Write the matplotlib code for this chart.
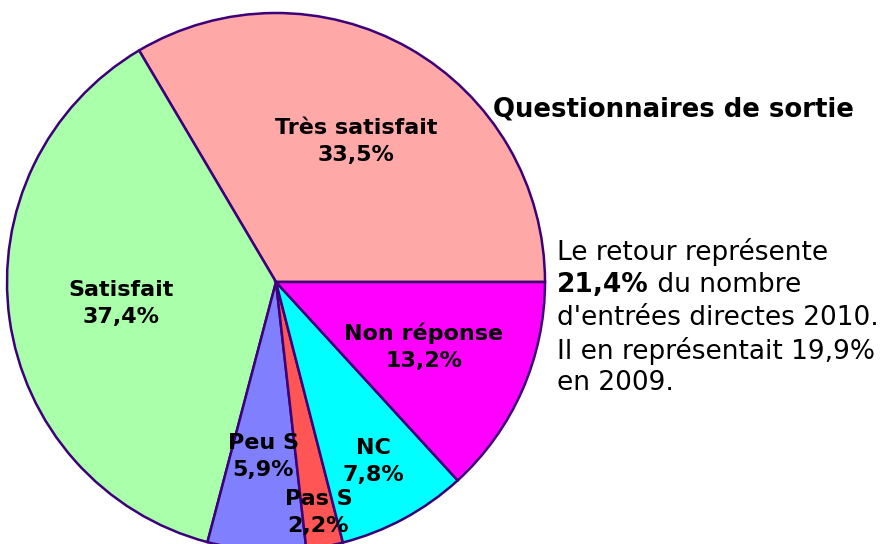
import matplotlib
matplotlib.use("Agg")
import matplotlib.pyplot as plt
import numpy as np

categories = ["Très satisfait", "Satisfait", "Peu S", "Pas S", "NC", "Non réponse"]
values = [33.5, 37.4, 5.9, 2.2, 7.8, 13.2]
value_labels = ["33,5%", "37,4%", "5,9%", "2,2%", "7,8%", "13,2%"]
colors = ["#FFA8A8", "#AAFFAA", "#8080FF", "#FF5555", "#00FFFF", "#FF00FF"]
label_radius = [0.60, 0.58, 0.65, 0.87, 0.76, 0.60]

W, H = 890, 544
fig = plt.figure(figsize=(W / 100, H / 100), dpi=100)
ax = fig.add_axes([0, 0, 1, 1])

cx, cy, R = 276, H - 282, 269
wedges, _ = ax.pie(values, colors=colors, startangle=0, counterclock=True,
                   center=(cx, cy), radius=R, frame=True,
                   wedgeprops=dict(edgecolor="#3C0078", linewidth=1.8))
ax.set_xlim(0, W)
ax.set_ylim(0, H)
ax.set_aspect("equal")
ax.axis("off")

for w, cat, vl, rf in zip(wedges, categories, value_labels, label_radius):
    mid = np.deg2rad((w.theta1 + w.theta2) / 2)
    x = cx + rf * R * np.cos(mid)
    y = cy + rf * R * np.sin(mid)
    ax.text(x, y, f"{cat}\n{vl}", ha="center", va="center", fontsize=16,
            fontweight="bold", family="DejaVu Sans", linespacing=1.45)

fig.text(673.5 / W, 1 - 110 / H, "Questionnaires de sortie", ha="center", va="center",
         fontsize=18.7, fontweight="bold", family="DejaVu Sans")

lines_y = [252, 285, 318, 351, 383]
fs = 19
x0 = 557
fig.text(x0 / W, 1 - lines_y[0] / H, "Le retour représente", ha="left", va="center", fontsize=fs)
t = fig.text(x0 / W, 1 - lines_y[1] / H, "21,4%", ha="left", va="center", fontsize=fs, fontweight="bold")
fig.canvas.draw()
bb = t.get_window_extent()
fig.text((bb.x1 + 0.5) / W, 1 - lines_y[1] / H, " du nombre", ha="left", va="center", fontsize=fs)
fig.text(x0 / W, 1 - lines_y[2] / H, "d'entrées directes 2010.", ha="left", va="center", fontsize=fs)
fig.text(x0 / W, 1 - lines_y[3] / H, "Il en représentait 19,9%", ha="left", va="center", fontsize=fs)
fig.text(x0 / W, 1 - lines_y[4] / H, "en 2009.", ha="left", va="center", fontsize=fs)

fig.savefig("out.png", dpi=100)
